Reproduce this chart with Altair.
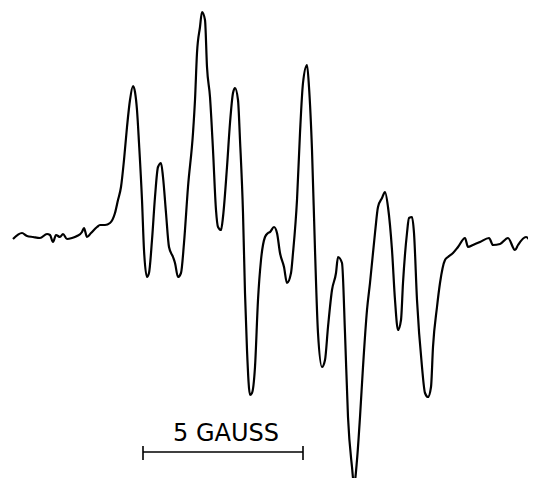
import altair as alt
import pandas as pd

# Trace of the spectrum (picture pixel units)
field = [13, 22, 27, 33, 40, 47, 50, 53, 56, 60, 63, 67, 72, 77, 82, 84, 87, 91, 97, 100,
         105, 110, 115, 118, 121, 124, 127, 130, 133, 135, 137, 139, 142, 144, 147, 149, 152,
         155, 158, 161, 163, 166, 169, 173, 175, 178, 181, 184, 188, 193, 195, 197, 200, 202,
         205, 207, 210, 213, 216, 218, 221, 223, 227, 230, 233, 235, 238, 240, 243, 245, 247,
         250, 252, 255, 258, 261, 265, 268, 270, 274, 277, 280, 284, 287, 291, 293, 297, 300,
         303, 307, 309, 312, 315, 318, 322, 325, 328, 332, 336, 338, 342, 345, 348, 352, 354,
         357, 360, 363, 367, 370, 375, 378, 382, 385, 388, 392, 395, 398, 401, 403, 407, 409,
         412, 414, 417, 422, 425, 428, 431, 433, 437, 440, 445, 448, 453, 458, 465, 468, 473,
         480, 489, 493, 500, 508, 515, 518, 526, 530, 536]
signal = [239, 233, 236, 237, 238, 234, 235, 242, 235, 237, 234, 239, 238, 236, 232, 228, 237,
          233, 227, 225, 225, 223, 213, 200, 187, 160, 127, 100, 86, 92, 110, 143, 200, 250,
          277, 273, 240, 197, 167, 163, 177, 213, 247, 257, 263, 277, 273, 243, 187, 133, 100,
          53, 27, 12, 20, 67, 97, 150, 210, 227, 230, 217, 167, 123, 93, 88, 100, 140, 213,
          293, 350, 395, 393, 367, 300, 260, 237, 233, 232, 227, 233, 253, 267, 283, 273, 253,
          200, 133, 83, 65, 87, 150, 250, 333, 367, 360, 327, 290, 273, 257, 263, 333, 417,
          467, 485, 460, 417, 367, 310, 283, 233, 207, 198, 192, 207, 250, 300, 330, 320, 283,
          233, 218, 217, 233, 300, 367, 393, 397, 387, 347, 307, 283, 260, 257, 253, 247, 238,
          247, 245, 242, 238, 245, 244, 238, 250, 245, 237, 240, 243]

label_text = ["5 GAUSS"]
bar_ends = [143, 303]

trace = pd.DataFrame({"field": field, "signal": signal, "i": range(len(field))})

xs = alt.Scale(domain=[8, 528], nice=False, zero=False)
ys = alt.Scale(domain=[8, 478], nice=False, zero=False, reverse=True)

line = alt.Chart(trace).mark_line(color="black", strokeWidth=2.2, interpolate="monotone").encode(
    x=alt.X("field:Q", scale=xs, axis=None),
    y=alt.Y("signal:Q", scale=ys, axis=None),
    order="i:Q",
)

bar = pd.DataFrame({"x0": [bar_ends[0]], "x1": [bar_ends[1]], "y": [452]})
ticks = pd.DataFrame({"x": bar_ends, "y0": [446, 446], "y1": [460, 460]})
lab = pd.DataFrame({"x": [226], "y": [434], "t": label_text})

bar_rule = alt.Chart(bar).mark_rule(color="black", strokeWidth=1.6).encode(
    x=alt.X("x0:Q", scale=xs, axis=None), x2="x1:Q",
    y=alt.Y("y:Q", scale=ys, axis=None))
tick_rule = alt.Chart(ticks).mark_rule(color="black", strokeWidth=1.6).encode(
    x=alt.X("x:Q", scale=xs, axis=None),
    y=alt.Y("y0:Q", scale=ys, axis=None), y2="y1:Q")
text = alt.Chart(lab).mark_text(font="DejaVu Sans", fontSize=24, color="black",
                                baseline="middle", align="center").encode(
    x=alt.X("x:Q", scale=xs, axis=None),
    y=alt.Y("y:Q", scale=ys, axis=None), text="t:N")

chart = alt.layer(line, bar_rule, tick_rule, text).properties(
    width=520, height=470, autosize=alt.AutoSizeParams(type="none"), padding=0,
    background="white"
).configure_view(stroke=None)

chart.save("out.html", embed_options={"renderer": "svg", "actions": False})
